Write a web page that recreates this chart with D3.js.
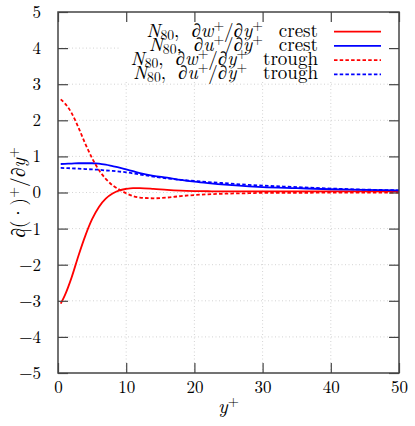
<!DOCTYPE html>
<html>
<head>
<meta charset="utf-8">
<script src="https://cdn.jsdelivr.net/npm/d3@7"></script>
<style>
  body { margin: 0; background: #fff; }
</style>
</head>
<body>
<svg id="chart" width="415" height="426" font-family="Latin Modern Roman"></svg>
<script>
// sampled y+ positions shared by all four profiles
const yPlus = [0.4, 1, 2, 3, 4, 5, 6, 7, 8, 9, 10, 11, 12, 14, 16, 18, 20, 22, 25, 28, 30, 35, 40, 45, 50];

const dwCrest = [-3.08, -2.85, -2.35, -1.75, -1.2, -0.74, -0.40, -0.17, -0.03, 0.06, 0.10, 0.12, 0.12, 0.10, 0.07,
  0.05, 0.04, 0.035, 0.03, 0.03, 0.03, 0.03, 0.03, 0.03, 0.03];
const duCrest = [0.79, 0.795, 0.80, 0.81, 0.81, 0.81, 0.80, 0.77, 0.73, 0.69, 0.64, 0.59, 0.54, 0.46, 0.41,
  0.35, 0.30, 0.26, 0.21, 0.17, 0.15, 0.12, 0.09, 0.075, 0.06];
const dwTrough = [2.58, 2.47, 2.2, 1.8, 1.35, 0.95, 0.62, 0.38, 0.2, 0.08, -0.02, -0.1, -0.14, -0.16, -0.14,
  -0.10, -0.07, -0.05, -0.03, -0.02, -0.01, -0.01, 0.0, 0.0, 0.0];
const duTrough = [0.68, 0.675, 0.67, 0.66, 0.65, 0.64, 0.63, 0.61, 0.60, 0.58, 0.56, 0.53, 0.50, 0.44, 0.39,
  0.35, 0.32, 0.29, 0.25, 0.21, 0.19, 0.15, 0.11, 0.08, 0.06];

const xTicks = [0, 10, 20, 30, 40, 50];
const yTicks = [-5, -4, -3, -2, -1, 0, 1, 2, 3, 4, 5];

const series = [
  {vals: dwCrest, color: '#ff0000', dash: null, var: 'w', kind: 'crest'},
  {vals: duCrest, color: '#0000ff', dash: null, var: 'u', kind: 'crest'},
  {vals: dwTrough, color: '#ff0000', dash: '3.5,2.2', var: 'w', kind: 'trough'},
  {vals: duTrough, color: '#0000ff', dash: '3.5,2.2', var: 'u', kind: 'trough'}
];

const FONT = '"Latin Modern Roman"';

let svg = d3.select('#chart'),
  margin = {top: 12, right: 16, bottom: 53, left: 58},
  width = +svg.attr('width') - margin.left - margin.right,
  height = +svg.attr('height') - margin.top - margin.bottom;

let g = svg.append('g')
  .attr('transform', 'translate(' + margin.left + ',' + margin.top + ')');

let x = d3.scaleLinear().domain([0, 50]).range([0, width]);
let y = d3.scaleLinear().domain([-5, 5]).range([height, 0]);

// dotted grid
let grid = g.append('g').attr('class', 'grid')
  .attr('stroke', '#c8c8c8').attr('stroke-width', 0.8).attr('stroke-dasharray', '1,2.5');
grid.selectAll('.gx').data(xTicks.slice(1, -1)).enter().append('line')
  .attr('x1', d => x(d)).attr('x2', d => x(d)).attr('y1', 0).attr('y2', height);
grid.selectAll('.gy').data(yTicks.slice(1, -1)).enter().append('line')
  .attr('x1', 0).attr('x2', width).attr('y1', d => y(d)).attr('y2', d => y(d));

// curves
let line = d3.line().x((d, i) => x(yPlus[i])).y(d => y(d)).curve(d3.curveMonotoneX);
g.append('g').attr('class', 'curves')
  .selectAll('path').data(series).enter().append('path')
  .attr('d', d => line(d.vals))
  .attr('fill', 'none')
  .attr('stroke', d => d.color)
  .attr('stroke-width', 1.8)
  .attr('stroke-dasharray', d => d.dash);

// axes, ticks pointing inward on all sides
function styleAxis(sel) {
  sel.attr('font-family', null).attr('font-size', null);
  sel.select('.domain').remove();
  sel.selectAll('.tick line').attr('stroke', '#444').attr('stroke-width', 1.2);
  sel.selectAll('.tick text')
    .style('font-family', FONT).style('font-size', '17px').attr('fill', '#000');
}

g.append('g').attr('transform', 'translate(0,' + height + ')')
  .call(d3.axisBottom(x).tickValues(xTicks).tickSizeInner(-10).tickSizeOuter(0).tickPadding(8))
  .call(styleAxis);
g.append('g')
  .call(d3.axisLeft(y).tickValues(yTicks).tickSizeInner(-10).tickSizeOuter(0).tickPadding(17))
  .call(styleAxis);

// legend box (opaque, hides grid under it)
let legend = g.append('g').attr('class', 'legend');
legend.append('rect')
  .attr('x', 62).attr('y', 1).attr('width', width - 63).attr('height', 67)
  .attr('fill', '#fff');

g.append('g')
  .call(d3.axisTop(x).tickValues(xTicks).tickSizeInner(-10).tickSizeOuter(0).tickFormat(''))
  .call(styleAxis);
g.append('g').attr('transform', 'translate(' + width + ',0)')
  .call(d3.axisRight(y).tickValues(yTicks).tickSizeInner(-10).tickSizeOuter(0).tickFormat(''))
  .call(styleAxis);

g.append('rect')
  .attr('width', width).attr('height', height)
  .attr('fill', 'none').attr('stroke', '#444').attr('stroke-width', 1.5);

// rich text helper: segments with italic flag and vertical shift (sub > 0, sup < 0)
function richText(sel, parts, size) {
  let prev = 0;
  parts.forEach(p => {
    sel.append('tspan')
      .attr('dy', p.shift - prev)
      .style('font-family', FONT)
      .style('font-style', p.it ? 'italic' : 'normal')
      .style('font-size', (p.shift !== 0 ? size * 0.72 : size) + 'px')
      .text(p.t);
    prev = p.shift;
  });
}

// legend: three right-aligned groups per row, TeX-like wide spacing between them
const LS = 19;
let lEnd = 260, ly0 = 24.7, lstep = 14.2;
function legendPiece(row, xEnd, parts) {
  let t = legend.append('text')
    .attr('x', xEnd).attr('y', row)
    .attr('text-anchor', 'end')
    .style('font-family', FONT).style('font-size', LS + 'px');
  richText(t, parts, LS);
  return xEnd - t.node().getComputedTextLength();
}
series.forEach((s, i) => {
  let row = ly0 + i * lstep;
  let x0 = legendPiece(row, lEnd, [{t: s.kind, it: false, shift: 0}]);
  let x1 = legendPiece(row, x0 - 16, [
    {t: '\u2202', it: false, shift: 0},
    {t: s.var, it: true, shift: 0},
    {t: '+', it: false, shift: -7},
    {t: '/\u2202', it: false, shift: 0},
    {t: 'y', it: true, shift: 0},
    {t: '+', it: false, shift: -7}
  ]);
  legendPiece(row, x1 - 12, [
    {t: 'N', it: true, shift: 0},
    {t: '80', it: false, shift: 3},
    {t: ',', it: false, shift: 0}
  ]);
  legend.append('line')
    .attr('x1', 276).attr('x2', 323)
    .attr('y1', row - 5).attr('y2', row - 5)
    .attr('stroke', s.color).attr('stroke-width', 1.8)
    .attr('stroke-dasharray', s.dash);
});

// axis titles
let xl = svg.append('text')
  .attr('x', margin.left + width / 2).attr('y', 413)
  .attr('text-anchor', 'middle').style('font-family', FONT).style('font-size', '20px');
richText(xl, [{t: 'y', it: true, shift: 0}, {t: '+', it: false, shift: -7}], 20);

let yl = svg.append('text')
  .attr('transform', 'translate(25,' + (margin.top + height / 2) + ') rotate(-90)')
  .attr('text-anchor', 'middle').style('font-family', FONT).style('font-size', '19.5px');
richText(yl, [
  {t: '\u2202(\u00b7)', it: false, shift: 0},
  {t: '+', it: false, shift: -7},
  {t: '/\u2202', it: false, shift: 0},
  {t: 'y', it: true, shift: 0},
  {t: '+', it: false, shift: -7}
], 19.5);
</script>
</body>
</html>
